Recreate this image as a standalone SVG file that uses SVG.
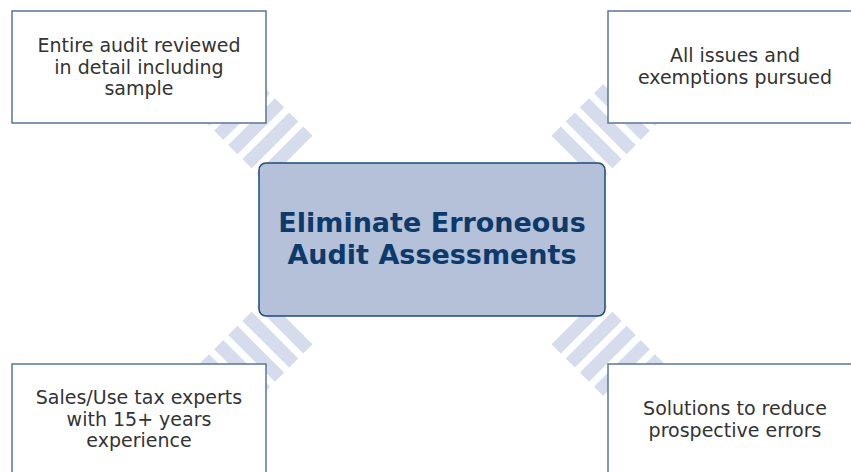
<svg xmlns="http://www.w3.org/2000/svg" width="851" height="472" viewBox="0 0 851 472">
<defs>
<style>
.box{fill:#ffffff;stroke:#5a7599;stroke-width:1.5}
.hub{fill:#b4c1d9;stroke:#1f4a7a;stroke-width:1.5}
.t{font-family:"DejaVu Sans",Verdana,sans-serif;font-size:19px;fill:#333333;text-anchor:middle}
.h{font-family:"DejaVu Sans",Verdana,sans-serif;font-size:27px;font-weight:bold;fill:#0d3a6b;text-anchor:middle}
.band{fill:#d6dcec}
</style>
<g id="stripes">
<rect class="band" x="-6.5" y="-33" width="13" height="66"/>
<rect class="band" x="13.5" y="-33" width="13" height="66"/>
<rect class="band" x="33.5" y="-33" width="13" height="66"/>
<rect class="band" x="53.5" y="-33" width="13" height="66"/>
<rect class="band" x="73.5" y="-33" width="13" height="66"/>
</g>
</defs>
<rect width="851" height="472" fill="#ffffff"/>
<g id="connectors">
<use href="#stripes" transform="translate(284.5,154.5) rotate(-135)"/>
<use href="#stripes" transform="translate(579.5,154.5) rotate(-45)"/>
<use href="#stripes" transform="translate(284.5,325.5) rotate(135)"/>
<use href="#stripes" transform="translate(579.5,325.5) rotate(45)"/>
</g>
<g id="node-tl">
<rect class="box" x="12" y="11" width="254" height="112"/>
<text class="t" x="139" y="52">Entire audit reviewed</text>
<text class="t" x="139" y="74">in detail including</text>
<text class="t" x="139" y="95">sample</text>
</g>
<g id="node-tr">
<rect class="box" x="608" y="11" width="260" height="112"/>
<text class="t" x="735" y="62">All issues and</text>
<text class="t" x="735" y="84">exemptions pursued</text>
</g>
<g id="node-bl">
<rect class="box" x="12" y="364" width="254" height="120"/>
<text class="t" x="139" y="404">Sales/Use tax experts</text>
<text class="t" x="139" y="426">with 15+ years</text>
<text class="t" x="139" y="447">experience</text>
</g>
<g id="node-br">
<rect class="box" x="608" y="364" width="260" height="120"/>
<text class="t" x="735" y="415">Solutions to reduce</text>
<text class="t" x="735" y="437">prospective errors</text>
</g>
<g id="node-center">
<rect class="hub" x="259" y="163" width="346" height="153" rx="7"/>
<text class="h" x="432" y="232">Eliminate Erroneous</text>
<text class="h" x="432" y="264">Audit Assessments</text>
</g>
</svg>
